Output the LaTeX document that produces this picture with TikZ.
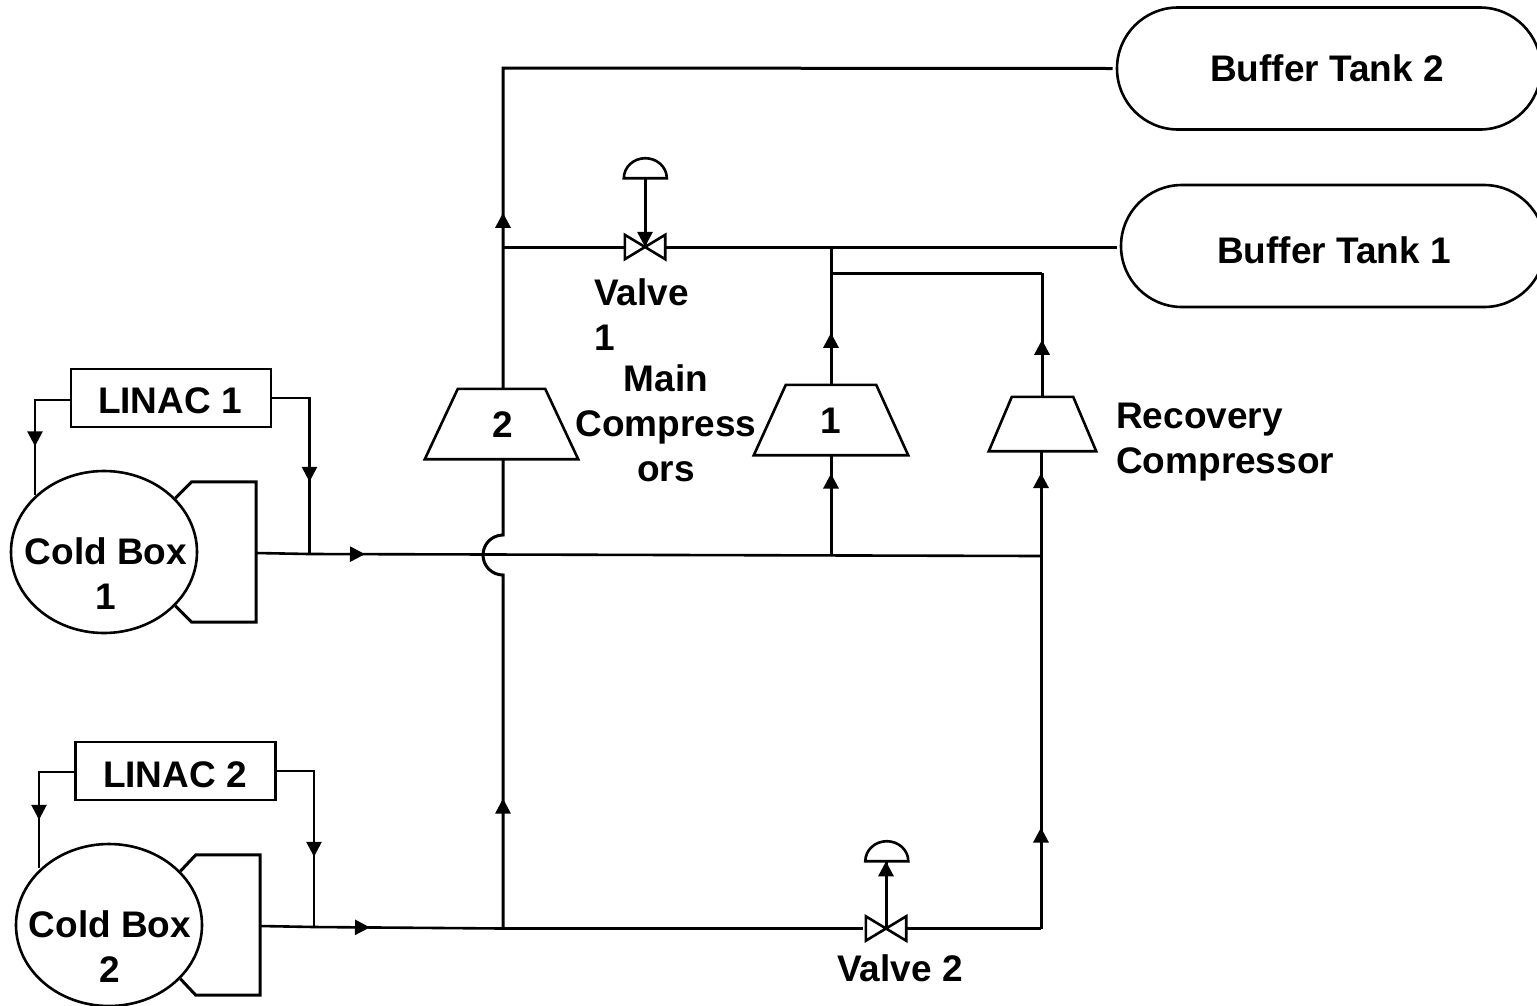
\documentclass[tikz,border=0pt]{standalone}
\usepackage{fontspec}
\setmainfont{Liberation Sans}
\usetikzlibrary{arrows.meta,shapes.geometric,shapes.misc,decorations.markings,calc}
\tikzset{
  x=1pt,y=-1pt,
  pipe/.style={line width=3pt,line join=miter},
  thinline/.style={line width=2.6pt},
  lbl/.style={font=\fontsize{37}{45}\selectfont\bfseries,inner sep=0pt,align=center,text=black},
  lbll/.style={lbl,align=left,anchor=west},
  tank/.style={draw,rounded rectangle,line width=2.6pt,minimum width=424pt,minimum height=122pt,inner sep=0pt},
  linacbox/.style={draw,line width=2.6pt,minimum width=200pt,minimum height=58pt,inner sep=0pt},
  coldbox/.style={draw,ellipse,line width=2.6pt,minimum width=186pt,minimum height=162pt,inner sep=0pt},
  bodybox/.style={minimum width=64pt,minimum height=140pt,inner sep=0pt},
  compbox/.style={minimum width=#1,inner sep=0pt},
  valvebox/.style={minimum width=40pt,minimum height=24pt,inner sep=0pt},
  domebox/.style={minimum width=43pt,minimum height=20pt,inner sep=0pt},
  tipat/.style={postaction={decorate,decoration={markings,mark=at position #1pt with {\arrow{Triangle[length=15pt,width=15pt]}}}}},
}
\begin{document}
\begin{tikzpicture}
\useasboundingbox (0,0) rectangle (1537,1005);
\clip (0,0) rectangle (1537,1005);

% tanks
\node[tank] (t2) at (1329,68.5) {};
\node[lbl] (t2l) at (1327,68) {Buffer Tank 2};
\node[tank] (t1) at (1333,246) {};
\node[lbl] (t1l) at (1334,250) {Buffer Tank 1};

% compressors
\node[compbox=153pt,minimum height=70pt] (c2) at (501.5,424) {};
\node[lbl] (c2l) at (503,425) {2};
\node[compbox=154pt,minimum height=70pt] (c1) at (831,420) {};
\node[lbl] (c1l) at (831,421) {1};
\node[compbox=107pt,minimum height=54pt] (rc) at (1042.5,424) {};
\foreach \c/\o in {c2/33,c1/32,rc/23}
  \draw[thinline] ($(\c.north west)+(\o,0)$) -- ($(\c.north east)+(-\o,0)$) -- (\c.south east) -- (\c.south west) -- cycle;

% valves
\node[valvebox] (v1) at (645,247) {};
\node[valvebox] (v2) at (886,928.5) {};
\node[domebox] (d1) at (645.5,168) {};
\node[domebox] (d2) at (887,851) {};
\foreach \v in {v1,v2}
  \draw[thinline] (\v.north west) -- (\v.south east) -- (\v.north east) -- (\v.south west) -- cycle;
\foreach \d in {d1,d2}
  \draw[thinline] (\d.south west) arc[start angle=180,end angle=0,x radius=21.5pt,y radius=20pt] -- cycle;

% linacs and cold boxes
\node[linacbox] (l1) at (171,398) {};
\node[lbl] (l1l) at (170,401) {LINAC 1};
\node[linacbox] (l2) at (175.5,771) {};
\node[lbl] (l2l) at (175,775) {LINAC 2};
\node[coldbox] (k1) at (104,552) {};
\node[coldbox] (k2) at (109,925) {};
\node[bodybox] (b1) at (224,552) {};
\node[bodybox] (b2) at (228,925) {};
\node[lbl] (k1l) at (106,574) {Cold Box\\1};
\node[lbl] (k2l) at (110,947) {Cold Box\\2};
\foreach \k/\b in {k1/b1,k2/b2}
  \draw[pipe] (\k.37) -- (\b.north west) -- (\b.north east) -- (\b.south east) -- (\b.south west) -- (\k.-37);

% junctions
\coordinate (jv) at (503,247);
\coordinate (jt) at (503,68);
\coordinate (ja) at (831,248);
\coordinate (jb) at (831,273);
\coordinate (jc) at (1042,273);
\coordinate (m0) at (256,553);
\coordinate (m1) at (309.5,554);
\coordinate (ms) at (831,555.5);
\coordinate (mr) at (1041,556);
\coordinate (h1) at (503,535);
\coordinate (h2) at (503,575);
\coordinate (n0) at (260,926);
\coordinate (n1) at (314,927);
\coordinate (n2) at (503,928.5);
\coordinate (n3) at (1041,928.5);
\coordinate (l1a) at (35,400);
\coordinate (l1b) at (309.5,398);
\coordinate (l2a) at (39,772);
\coordinate (l2b) at (314,771);

% pipes: upper
\draw[pipe,tipat=176] (c2.north -| jv) -- (jt) -- ([xshift=-3pt]t2.west);
\draw[pipe] (jv) -- (v1.west);
\draw[pipe] (v1.east) -- ([xshift=-3pt]t1.west |- v1.east);
\draw[pipe,tipat=52] (c1.north) -- (ja);
\draw[pipe] (jb) -- (jc);
\draw[pipe,tipat=57] (rc.north -| jc) -- (jc);
\draw[pipe,tipat=-0.1] (v1.center |- d1.south) -- (v1.center);

% pipes: main header
\draw[thinline,tipat=109] (m0) -- (m1) -- (mr);
\draw[pipe,tipat=82] (ms) -- (c1.south);
\draw[pipe,tipat=83] (mr) -- (rc.south -| mr);

% compressor 2 suction with jump
\draw[pipe] (c2.south -| jv) -- (h1) arc[start angle=90,end angle=270,radius=20pt] -- (n2);
\draw[thinline,tipat=130] (n2) -- (503,790);

% lower header
\draw[thinline,tipat=110] (n0) -- (n1) -- (n2) -- ([xshift=-3pt]v2.west);
\draw[pipe] (v2.east) -- (n3);
\draw[pipe,tipat=101] (n3) -- (mr);
\draw[pipe,tipat=-0.1] (v2.center) -- (v2.center |- d2.south);

% linac loops
\draw[thinline,tipat=81] (l1.west |- l1a) -- (l1a) -- (l1a |- k1.140);
\draw[thinline,tipat=121] (l1.east |- l1b) -- (l1b) -- (m1);
\draw[thinline,tipat=83] (l2.west |- l2a) -- (l2a) -- (l2a |- k2.140);
\draw[thinline,tipat=123] (l2.east |- l2b) -- (l2b) -- (n1);

% labels
\node[lbl,text width=100pt,align=left,anchor=west] (vl1) at (594,315) {Valve\\1};
\node[lbl] (vl2) at (900,968) {Valve 2};
\node[lbl] (ml) at (666,423) {Main\\Compress\\ors};
\node[lbll] (rl) at (1116,442) {Recovery\\Compressor};
\end{tikzpicture}
\end{document}
